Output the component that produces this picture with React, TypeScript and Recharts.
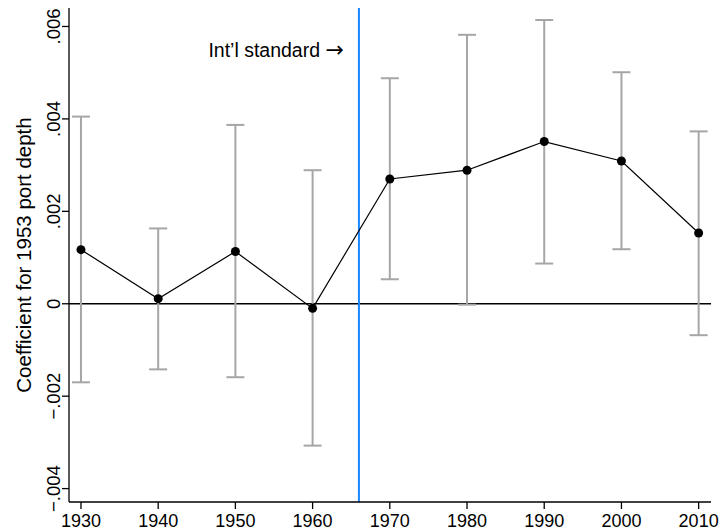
import {
  ComposedChart,
  Line,
  ErrorBar,
  XAxis,
  YAxis,
  ReferenceLine,
} from "recharts";

// decades on the x axis
const years = [1930, 1940, 1950, 1960, 1970, 1980, 1990, 2000, 2010];
// point estimates
const coef = [0.00117, 0.00011, 0.00113, -0.0001, 0.0027, 0.00289, 0.00351, 0.00309, 0.00153];
// confidence interval bounds
const ciLow = [-0.0017, -0.00142, -0.00159, -0.00307, 0.00053, -0.00002, 0.00087, 0.00118, -0.00068];
const ciHigh = [0.00405, 0.00163, 0.00387, 0.00289, 0.00488, 0.00582, 0.00614, 0.00501, 0.00373];

const xTicks = [1930, 1940, 1950, 1960, 1970, 1980, 1990, 2000, 2010];
const yTicks = [-0.004, -0.002, 0, 0.002, 0.004, 0.006];
const yTickLabels = ["\u2212.004", "\u2212.002", "0", ".002", ".004", ".006"];

const standardYear = 1966;
const annotation = "Int\u2019l standard ";

const data = years.map((year, i) => ({
  year,
  coef: coef[i],
  err: [coef[i] - ciLow[i], ciHigh[i] - coef[i]],
}));

const font = "'Liberation Sans', Arial, Helvetica, sans-serif";

const YTick = (props: any) => {
  const { x, y, payload } = props;
  const idx = yTicks.indexOf(payload.value);
  return (
    <text
      x={x}
      y={y}
      transform={`rotate(-90, ${x}, ${y})`}
      textAnchor="middle"
      fontSize={18.5}
      fontFamily={font}
      fill="#000"
    >
      {idx >= 0 ? yTickLabels[idx] : payload.value}
    </text>
  );
};

const XTick = (props: any) => {
  const { x, y, payload } = props;
  return (
    <text
      x={x}
      y={y + 18}
      textAnchor="middle"
      fontSize={18}
      fontFamily={font}
      fill="#000"
    >
      {payload.value}
    </text>
  );
};

const YTitle = (props: any) => {
  const { viewBox } = props;
  const cx = 31;
  const cy = viewBox.y + viewBox.height / 2;
  return (
    <text
      x={cx}
      y={cy}
      transform={`rotate(-90, ${cx}, ${cy})`}
      textAnchor="middle"
      fontSize={20.5}
      fontFamily={font}
      fill="#000"
    >
      Coefficient for 1953 port depth
    </text>
  );
};

const StandardLabel = (props: any) => {
  const { viewBox } = props;
  return (
    <text
      x={viewBox.x - 15}
      y={viewBox.y + 49}
      textAnchor="end"
      fontSize={19.5}
      fontFamily={font}
      fill="#000"
    >
      {annotation}
      <tspan fontFamily="'DejaVu Sans', sans-serif" fontSize={22}>
        {"\u2192"}
      </tspan>
    </text>
  );
};

export default function App() {
  return (
    <div style={{ position: "absolute", left: 0, top: 0, background: "#fff" }}>
      <ComposedChart
        width={720}
        height={532}
        data={data}
        margin={{ top: 8, right: 9, bottom: 0, left: 0 }}
      >
        <XAxis
          dataKey="year"
          type="number"
          domain={[1928.45, 2011.6]}
          ticks={xTicks}
          allowDataOverflow
          height={30}
          tickSize={7}
          tickMargin={0}
          tick={<XTick />}
          stroke="#000"
          strokeWidth={1.3}
          tickLine={{ stroke: "#000", strokeWidth: 1.3 }}
        />
        <YAxis
          type="number"
          domain={[-0.00429, 0.0064]}
          ticks={yTicks}
          allowDataOverflow
          width={69}
          tickSize={7}
          tickMargin={2}
          tick={<YTick />}
          stroke="#000"
          strokeWidth={1.3}
          tickLine={{ stroke: "#000", strokeWidth: 1.3 }}
          label={<YTitle />}
        />
        <ReferenceLine y={0} stroke="#000" strokeWidth={1.5} />
        <ReferenceLine
          x={standardYear}
          stroke="#1a86ff"
          strokeWidth={2}
          label={<StandardLabel />}
        />
        <Line
          dataKey="coef"
          type="linear"
          stroke="#000"
          strokeWidth={1.2}
          dot={{ r: 4.5, fill: "#000", stroke: "#000", strokeWidth: 0 }}
          activeDot={false}
          isAnimationActive={false}
        >
          <ErrorBar
            dataKey="err"
            direction="y"
            width={9}
            stroke="#a6a6a6"
            strokeWidth={2}
            isAnimationActive={false}
          />
        </Line>
      </ComposedChart>
    </div>
  );
}
